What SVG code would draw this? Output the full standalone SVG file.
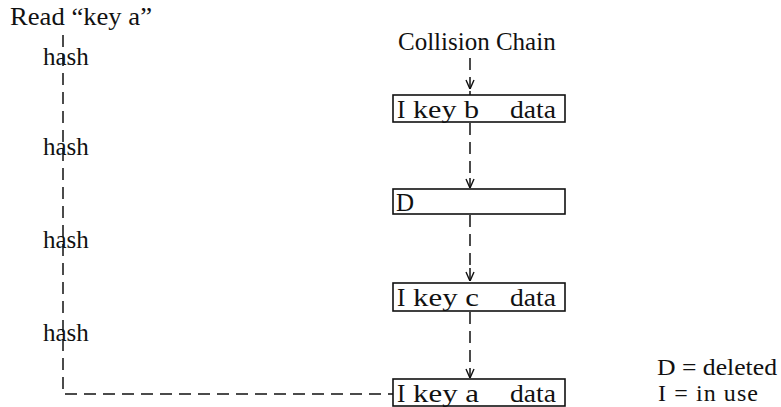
<svg xmlns="http://www.w3.org/2000/svg" width="781" height="407" viewBox="0 0 781 407">
  <defs>
    <style>
      text { font-family: "Liberation Serif", "Times New Roman", serif; font-size: 25px; fill: #111; }
      .legend text { font-size: 24px; }
      .box { fill: #fff; stroke: #111; stroke-width: 1.6; }
      .dash { fill: none; stroke: #111; stroke-width: 1.5; stroke-dasharray: 12 7; }
      .solid { fill: none; stroke: #111; stroke-width: 1.5; }
    </style>
    <marker id="arrow" viewBox="0 0 10 10" refX="10" refY="5" markerWidth="10" markerHeight="10" markerUnits="userSpaceOnUse" orient="auto">
      <polyline points="1,1 10,5 1,9" fill="none" stroke="#111" stroke-width="1.4"/>
    </marker>
  </defs>
  <rect width="781" height="407" fill="#fff"/>

  <!-- lookup path: read request, repeated hashing -->
  <g id="read">
    <text x="10" y="25" textLength="142" lengthAdjust="spacingAndGlyphs">Read “key a”</text>
  </g>
  <g id="hash-labels">
    <text x="43" y="65">hash</text>
    <text x="43" y="155">hash</text>
    <text x="43" y="248">hash</text>
    <text x="43" y="341">hash</text>
  </g>

  <g id="chain-title">
    <text x="398" y="50">Collision Chain</text>
  </g>

  <g id="connectors">
    <!-- hash probe path -->
    <path class="dash" d="M63,35 V394 H393"/>
    <!-- chain links: dashed shaft, solid tip -->
    <path class="dash" d="M470,58 V80"/>
    <path class="solid" d="M470,80 V89" marker-end="url(#arrow)"/>
    <path class="solid" d="M470,91 V95"/>
    <path class="dash" d="M470,123 V178"/>
    <path class="solid" d="M470,178 V188" marker-end="url(#arrow)"/>
    <path class="dash" d="M470,215 V268"/>
    <path class="solid" d="M470,268 V281" marker-end="url(#arrow)"/>
    <path class="dash" d="M470,312 V368"/>
    <path class="solid" d="M470,368 V378" marker-end="url(#arrow)"/>
  </g>

  <g id="entry-b">
    <rect class="box" x="393" y="95" width="172" height="27"/>
    <text x="397" y="118">I</text>
    <text x="413" y="118" textLength="66" lengthAdjust="spacingAndGlyphs">key b</text>
    <text x="510" y="118" textLength="46" lengthAdjust="spacingAndGlyphs">data</text>
  </g>
  <g id="entry-deleted">
    <rect class="box" x="393" y="189" width="172" height="25"/>
    <text x="396" y="211">D</text>
  </g>
  <g id="entry-c">
    <rect class="box" x="393" y="283" width="172" height="28"/>
    <text x="397" y="306">I</text>
    <text x="413" y="306" textLength="66" lengthAdjust="spacingAndGlyphs">key c</text>
    <text x="510" y="306" textLength="46" lengthAdjust="spacingAndGlyphs">data</text>
  </g>
  <g id="entry-a">
    <rect class="box" x="393" y="379" width="172" height="27"/>
    <text x="397" y="402">I</text>
    <text x="413" y="402" textLength="66" lengthAdjust="spacingAndGlyphs">key a</text>
    <text x="510" y="402" textLength="46" lengthAdjust="spacingAndGlyphs">data</text>
  </g>

  <g id="legend" class="legend">
    <text x="657" y="375" textLength="120" lengthAdjust="spacingAndGlyphs">D = deleted</text>
    <text x="658" y="401" textLength="100" lengthAdjust="spacing">I = in use</text>
  </g>
</svg>
